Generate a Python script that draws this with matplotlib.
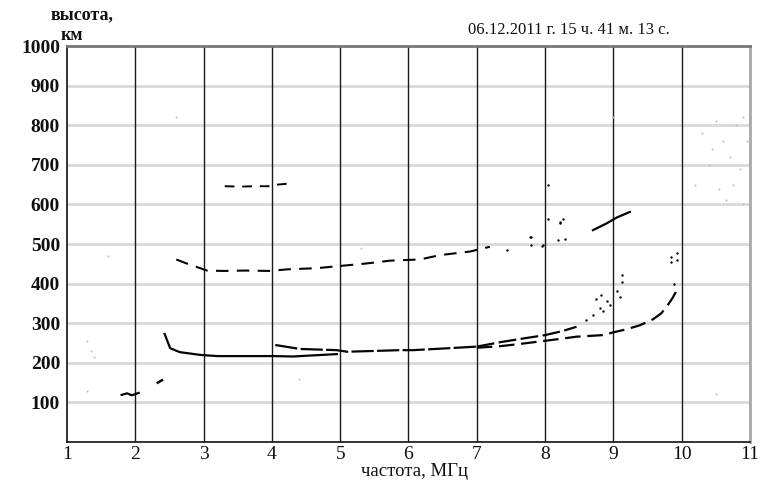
import matplotlib
matplotlib.use('Agg')
import numpy as np
import matplotlib.pyplot as plt

plt.rcParams['font.family'] = ['Liberation Serif', 'DejaVu Serif']

# ── Data (frequency MHz, virtual height km) ───────────────────
# Es / E trace near 2 MHz
e_f = [1.80, 1.88, 1.95, 2.05]
e_h = [119, 123, 118, 124]
es_f = [2.33, 2.39]
es_h = [150, 156]

# first-hop F trace, low part
f1_f = [2.43, 2.51, 2.65, 2.95, 3.2, 3.68, 4.02, 4.31, 4.95]
f1_h = [273, 237, 227, 220, 217, 217, 217, 216, 222]
# branch starting at 4 MHz
f1b_f = [4.05, 4.41, 4.95, 5.1, 5.5, 5.88, 6.07, 6.6, 7.0]
f1b_h = [245, 235, 232, 228, 230, 232, 232, 237, 241]
# ordinary continuation (upper)
o_f = [7.0, 7.34, 7.7, 8.0, 8.25, 8.46]
o_h = [241, 252, 262, 270, 280, 291]
o_dots_f = [8.6, 8.7, 8.8, 8.85, 8.9, 8.95, 9.05, 9.1, 9.12, 9.12, 8.75, 8.82]
o_dots_h = [308, 322, 339, 330, 356, 345, 381, 366, 404, 423, 360, 372]
# extraordinary continuation (lower)
x_f = [7.0, 7.34, 7.6, 7.88, 8.2, 8.46, 8.85, 9.0, 9.2, 9.39, 9.58, 9.7, 9.78, 9.86, 9.93]
x_h = [238, 242, 247, 253, 260, 266, 270, 277, 285, 295, 310, 325, 342, 362, 384]
x_dots_f = [9.85, 9.93, 9.85, 9.93, 9.88]
x_dots_h = [455, 460, 468, 477, 400]

# second-hop trace
f2_f = [2.6, 2.75, 2.95, 3.05, 3.3, 3.6, 3.98, 4.22, 4.66, 4.9, 5.39, 5.73, 6.17, 6.46, 6.9, 7.19]
f2_h = [461, 451, 439, 433, 432, 433, 432, 436, 439, 443, 451, 458, 461, 472, 481, 493]
f2_dots_f = [7.44, 7.78, 7.8, 7.8, 7.96, 7.97, 8.04, 8.04, 8.19, 8.22, 8.22, 8.26, 8.29]
f2_dots_h = [485, 518, 497, 518, 496, 497, 649, 563, 510, 556, 553, 563, 513]
# short trace near 9 MHz
s_f = [8.7, 8.9, 9.05, 9.24]
s_h = [535, 552, 567, 581]
# trace near 650 km
t_f = [3.31, 3.53, 3.78, 3.97, 4.02, 4.27]
t_h = [646, 645, 646, 646, 649, 653]

# faint background noise
n_f = [10.3, 10.5, 10.6, 10.8, 10.9, 10.4, 10.7, 10.95, 10.2, 10.55, 10.85, 10.65,
       10.45, 10.75, 10.9, 1.3, 1.35, 1.4, 1.3, 2.6, 5.3, 9.0, 10.5, 4.4, 1.6]
n_h = [780, 810, 760, 800, 820, 700, 720, 760, 650, 640, 690, 610,
       740, 650, 600, 255, 230, 215, 130, 820, 490, 820, 120, 160, 470]

xticks = list(range(1, 12))
yticks = list(range(100, 1001, 100))

# ── Figure ────────────────────────────────────────────────────
fig = plt.figure(figsize=(7.68, 4.86), dpi=100, facecolor='white')
ax = fig.add_axes([0.0872, 0.0905, 0.8894, 0.8148])
ax.set_xlim(1, 11)
ax.set_ylim(0, 1000)

for y in yticks[:-1]:
    ax.axhline(y, color='#d9d9d9', lw=2.0, zorder=0)
for x in xticks[1:]:
    ax.axvline(x, color='#1a1a1a', lw=1.0, zorder=1)

K = '#050505'
ax.plot(e_f, e_h, color=K, lw=1.6)
ax.plot(es_f, es_h, color=K, lw=1.8)
ax.plot(f1_f, f1_h, color=K, lw=1.6)
ax.plot(f1b_f, f1b_h, color=K, lw=1.6, dashes=(10, 1.5))
ax.plot(o_f, o_h, color=K, lw=1.6, dashes=(8, 2))
ax.plot(x_f, x_h, color=K, lw=1.6, dashes=(7, 3))
ax.plot(f2_f, f2_h, color=K, lw=1.5, dashes=(6, 4))
ax.plot(s_f, s_h, color=K, lw=1.6)
ax.plot(t_f, t_h, color=K, lw=1.4, dashes=(5, 4))
ax.scatter(o_dots_f, o_dots_h, s=3, color=K, lw=0)
ax.scatter(x_dots_f, x_dots_h, s=3, color=K, lw=0)
ax.scatter(f2_dots_f, f2_dots_h, s=3, color=K, lw=0)
ax.scatter(n_f, n_h, s=2, color='#bbbbbb', lw=0)

for s in ['left', 'bottom']:
    ax.spines[s].set_color('#111111')
    ax.spines[s].set_linewidth(1.2)
ax.spines['top'].set_color('#777777')
ax.spines['top'].set_linewidth(2.0)
ax.spines['right'].set_color('#aaaaaa')
ax.spines['right'].set_linewidth(2.0)

ax.set_xticks(xticks)
ax.set_yticks(yticks)
ax.tick_params(axis='both', length=0, labelsize=14, colors='#111111')
ax.tick_params(axis='x', pad=3)
ax.tick_params(axis='y', pad=5)
for lab in ax.get_yticklabels():
    lab.set_fontweight('bold')

fig.text(0.107, 0.969, 'высота,', ha='center', va='center', fontsize=13,
         fontweight='bold', color='#111111')
fig.text(0.094, 0.926, 'км', ha='center', va='center', fontsize=13,
         fontweight='bold', color='#111111')
fig.text(0.741, 0.938, '06.12.2011 г. 15 ч. 41 м. 13 с.', ha='center',
         va='center', fontsize=12, color='#111111')
fig.text(0.54, 0.030, 'частота, МГц', ha='center', va='center',
         fontsize=13.5, color='#111111')

fig.savefig('out.png', dpi=100, facecolor='white')
